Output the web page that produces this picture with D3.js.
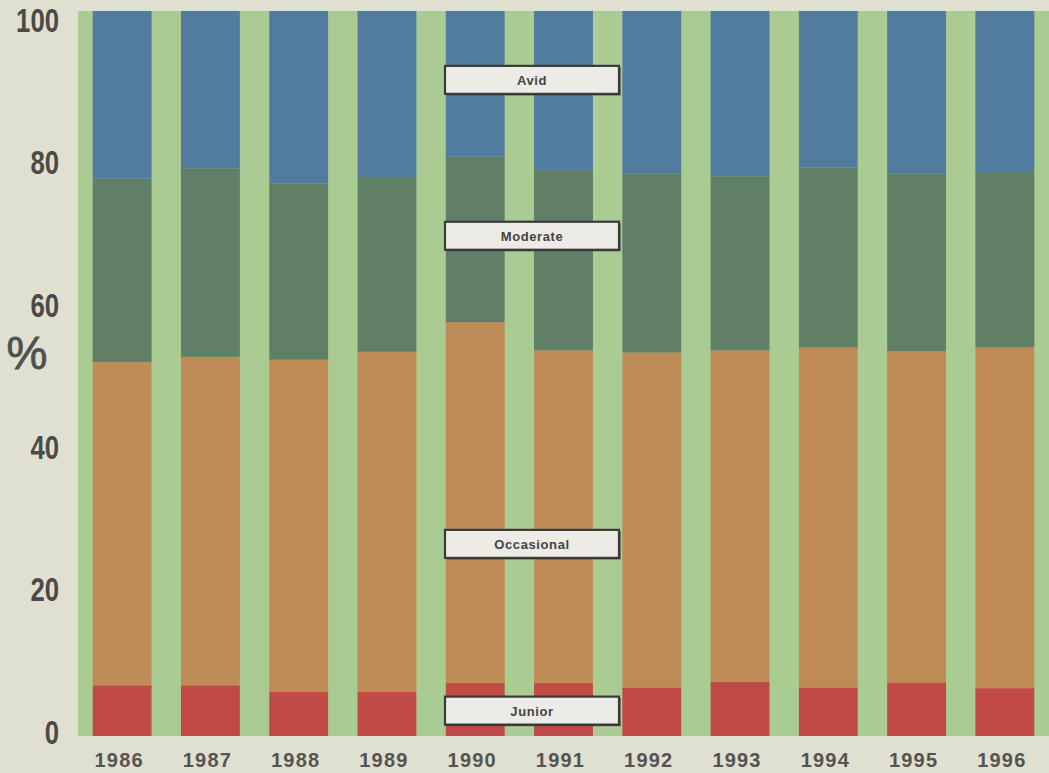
<!DOCTYPE html>
<html>
<head>
<meta charset="utf-8">
<script src="https://cdn.jsdelivr.net/npm/d3@7"></script>
<style>
  html, body { margin: 0; padding: 0; background: #dfe0d0; }
  svg { display: block; }
</style>
</head>
<body>
<svg id="chart" width="1049" height="773"></svg>
<script>
const years = ["1986","1987","1988","1989","1990","1991","1992","1993","1994","1995","1996"];
const junior     = [7.0, 7.0, 6.1, 6.1, 7.3, 7.3, 6.7, 7.5, 6.7, 7.4, 6.6];
const occasional = [44.6, 45.3, 45.8, 46.9, 49.8, 45.9, 46.2, 45.7, 46.9, 45.7, 47.0];
const moderate   = [25.3, 26.0, 24.3, 24.1, 22.8, 24.9, 24.7, 24.0, 24.8, 24.5, 24.2];
const avid       = [23.1, 21.7, 23.8, 22.9, 20.1, 21.9, 22.4, 22.8, 21.6, 22.4, 22.2];
const seriesNames = ["Junior", "Occasional", "Moderate", "Avid"];
const yTicks = [0, 20, 40, 60, 80, 100];
const legendLabelValues = [3.5, 26.5, 69, 90.5]; // vertical placement of the label boxes (in % units)

const colors = { Junior: "#c24a45", Occasional: "#bf8b56", Moderate: "#5f7f67", Avid: "#517c9f" };

const rows = years.map((y, i) => ({
  year: y, Junior: junior[i], Occasional: occasional[i], Moderate: moderate[i], Avid: avid[i]
}));

const svg = d3.select("#chart");
const W = 1049, H = 773;
const plot = { left: 78, right: 1049, top: 11, bottom: 736 };

svg.append("rect").attr("width", W).attr("height", H).attr("fill", "#dfe0d0");

const x = d3.scaleBand().domain(years).range([plot.left, plot.right])
  .paddingInner(0.333).paddingOuter(0.1665);
const y = d3.scaleLinear().domain([0, 100]).range([plot.bottom, plot.top]);
const yLabel = d3.scaleLinear().domain([0, 100]).range([732, 20]);

// green plot background
svg.append("rect")
  .attr("x", plot.left).attr("y", plot.top)
  .attr("width", plot.right - plot.left).attr("height", plot.bottom - plot.top)
  .attr("fill", "#aacc93");

const stack = d3.stack().keys(seriesNames);
const stacked = stack(rows);

svg.append("g").selectAll("g").data(stacked).join("g")
  .attr("fill", d => colors[d.key])
  .selectAll("rect").data(d => d).join("rect")
  .attr("x", d => x(d.data.year))
  .attr("width", x.bandwidth())
  .attr("y", d => y(d[1]))
  .attr("height", d => y(d[0]) - y(d[1]));

// y tick labels (condensed bold)
svg.append("g").selectAll("text").data(yTicks).join("text")
  .attr("transform", d => `translate(59,${yLabel(d)}) scale(0.78,1)`)
  .attr("text-anchor", "end").attr("dominant-baseline", "central")
  .attr("font-family", "'Liberation Sans', Arial, sans-serif")
  .attr("font-weight", "bold").attr("font-size", 33)
  .attr("fill", "#4a4a48")
  .text(d => d);

svg.append("text")
  .attr("x", 27).attr("y", 353)
  .attr("text-anchor", "middle").attr("dominant-baseline", "central")
  .attr("font-family", "'Liberation Sans', Arial, sans-serif")
  .attr("font-size", 46)
  .attr("stroke", "#505050").attr("stroke-width", 0.8)
  .attr("fill", "#505050")
  .text("%");

// x labels
svg.append("g").selectAll("text").data(years).join("text")
  .attr("x", d => x(d) + x.bandwidth() / 2 - 3)
  .attr("y", 767)
  .attr("text-anchor", "middle")
  .attr("font-family", "'Liberation Sans', Arial, sans-serif")
  .attr("font-weight", "bold").attr("font-size", 20)
  .attr("letter-spacing", 1.2)
  .attr("fill", "#545452")
  .text(d => d);

// label boxes
const boxX = 445, boxW = 174, boxH = 28;
const lg = svg.append("g").selectAll("g").data(seriesNames).join("g")
  .attr("transform", (d, i) => `translate(${boxX},${y(legendLabelValues[i]) - boxH / 2})`);
lg.append("rect").attr("x", 1.5).attr("y", 1.5).attr("width", boxW).attr("height", boxH)
  .attr("fill", "#3a3a3a");
lg.append("rect").attr("width", boxW).attr("height", boxH)
  .attr("fill", "#ecebe5").attr("stroke", "#3a3a3a").attr("stroke-width", 2.2);
lg.append("text")
  .attr("x", boxW / 2).attr("y", boxH / 2 + 1)
  .attr("text-anchor", "middle").attr("dominant-baseline", "central")
  .attr("font-family", "'Liberation Sans', Arial, sans-serif")
  .attr("font-weight", "bold").attr("font-size", 13).attr("letter-spacing", 0.6)
  .attr("fill", "#444")
  .text(d => d);
</script>
</body>
</html>
